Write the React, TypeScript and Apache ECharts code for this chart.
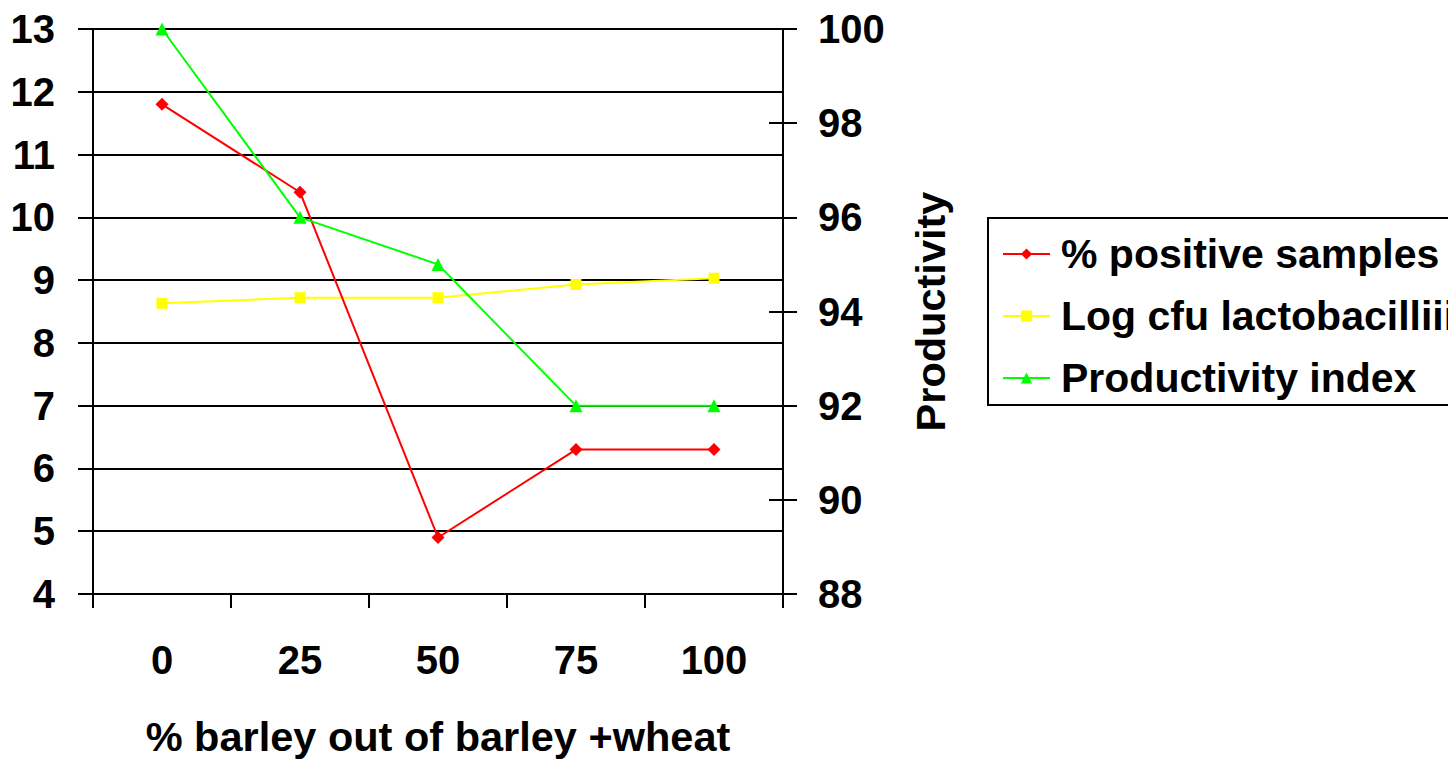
import React, { useEffect, useRef } from "react";
import * as echarts from "echarts";

const categories = ["0", "25", "50", "75", "100"];
const positiveSamples = [11.8, 10.4, 4.9, 6.3, 6.3];
const logCfu = [8.63, 8.72, 8.72, 8.93, 9.03];
const productivity = [100, 96, 95, 92, 92];
const seriesNames = ["% positive samples", "Log cfu lactobacilliii", "Productivity index"];
const xAxisTitle = "% barley out of barley +wheat";
const rightAxisTitle = "Productivity";

const FONT = "'Liberation Sans', Arial, sans-serif";

export default function App() {
  const ref = useRef<HTMLDivElement>(null);
  useEffect(() => {
    if (!ref.current) return;
    const chart = echarts.init(ref.current, undefined, { renderer: "svg" });
    const labelStyle = { color: "#000", fontSize: 40, fontWeight: "bold" as const, fontFamily: FONT };
    const titleStyle = { ...labelStyle, fontSize: 41.5 };
    chart.setOption({
      animation: false,
      backgroundColor: "#fff",
      grid: { left: 93, top: 29, right: 665, bottom: 164, containLabel: false },
      legend: {
        left: 988,
        top: 218,
        orient: "vertical",
        data: seriesNames,
        itemWidth: 47,
        itemHeight: 14,
        itemGap: 16,
        padding: [13, 12, 4, 14],
        borderColor: "#000",
        borderWidth: 2,
        textStyle: { ...labelStyle, fontSize: 41, lineHeight: 46, padding: [0, 0, 0, 6] },
      },
      xAxis: {
        type: "category",
        data: categories,
        boundaryGap: true,
        axisLine: { show: true, lineStyle: { color: "#000", width: 2 } },
        axisTick: { show: true, length: 14, lineStyle: { color: "#000", width: 2 } },
        axisLabel: { ...labelStyle, margin: 46 },
        splitLine: { show: false },
        name: xAxisTitle,
        nameLocation: "middle",
        nameGap: 121,
        nameTextStyle: titleStyle,
      },
      yAxis: [
        {
          type: "value",
          min: 4,
          max: 13,
          interval: 1,
          position: "left",
          axisLine: { show: true, lineStyle: { color: "#000", width: 2 } },
          axisTick: { show: true, length: 15, lineStyle: { color: "#000", width: 2 } },
          axisLabel: { ...labelStyle, margin: 38 },
          splitLine: { show: true, lineStyle: { color: "#000", width: 2 } },
        },
        {
          type: "value",
          min: 88,
          max: 100,
          interval: 2,
          position: "right",
          axisLine: { show: true, lineStyle: { color: "#000", width: 2 } },
          axisTick: { show: true, length: 14, lineStyle: { color: "#000", width: 2 } },
          axisLabel: { ...labelStyle, margin: 35 },
          splitLine: { show: false },
          name: rightAxisTitle,
          nameLocation: "middle",
          nameRotate: 90,
          nameGap: 126,
          nameTextStyle: titleStyle,
        },
        {
          type: "value",
          min: 88,
          max: 100,
          interval: 2,
          position: "right",
          axisLine: { show: false },
          axisTick: { show: true, inside: true, length: 14, lineStyle: { color: "#000", width: 2 } },
          axisLabel: { show: false },
          splitLine: { show: false },
        },
      ],
      series: [
        {
          name: seriesNames[0],
          type: "line",
          data: positiveSamples,
          yAxisIndex: 0,
          symbol: "diamond",
          symbolSize: 13,
          lineStyle: { color: "#ff0000", width: 2 },
          itemStyle: { color: "#ff0000" },
          z: 4,
        },
        {
          name: seriesNames[1],
          type: "line",
          data: logCfu,
          yAxisIndex: 0,
          symbol: "rect",
          symbolSize: 11,
          lineStyle: { color: "#ffff00", width: 2 },
          itemStyle: { color: "#ffff00" },
          z: 3,
        },
        {
          name: seriesNames[2],
          type: "line",
          data: productivity,
          yAxisIndex: 1,
          symbol: "triangle",
          symbolSize: 13,
          lineStyle: { color: "#00ff00", width: 2 },
          itemStyle: { color: "#00ff00" },
          z: 5,
        },
      ],
    });
    return () => chart.dispose();
  }, []);
  return <div ref={ref} style={{ width: 1448, height: 762, position: "absolute", left: 0, top: 0 }} />;
}
